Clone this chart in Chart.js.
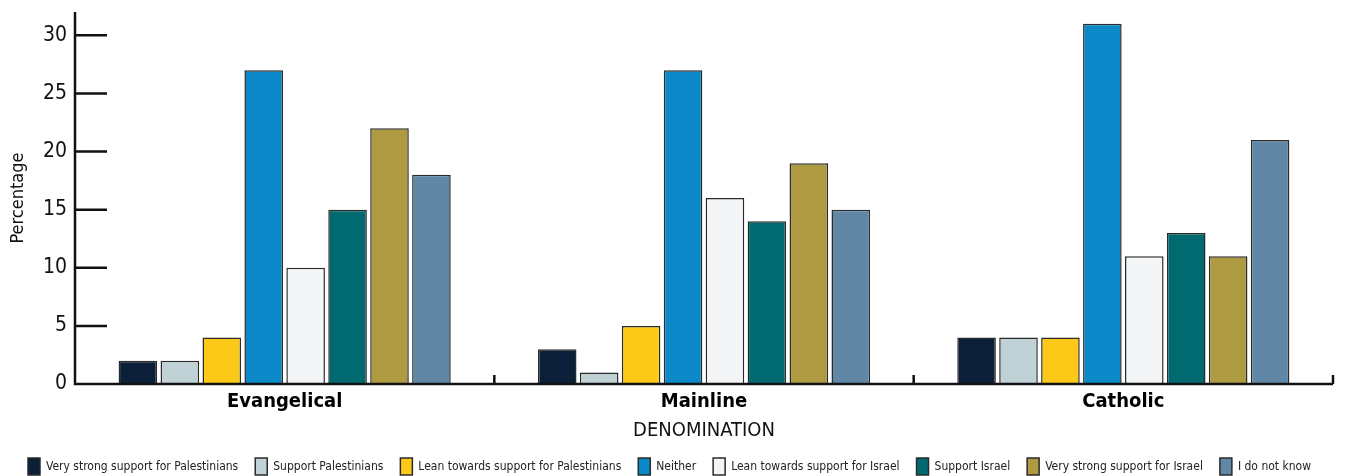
<!DOCTYPE html>
<html>
<head>
<meta charset="utf-8">
<script src="https://cdn.jsdelivr.net/npm/chart.js@4.4.1/dist/chart.umd.min.js"></script>
<style>
  html,body{ margin:0; padding:0; background:#fff; }
  #wrap{ width:1354px; height:476px; }
</style>
</head>
<body>
<div id="wrap"><canvas id="c" width="1354" height="476"></canvas></div>
<script>
// data
const denominations = ['Evangelical', 'Mainline', 'Catholic'];
const responses = [
  'Very strong support for Palestinians',
  'Support Palestinians',
  'Lean towards support for Palestinians',
  'Neither',
  'Lean towards support for Israel',
  'Support Israel',
  'Very strong support for Israel',
  'I do not know'
];
const veryStrongPal = [2, 3, 4];
const supportPal    = [2, 1, 4];
const leanPal       = [4, 5, 4];
const neither       = [27, 27, 31];
const leanIsr       = [10, 16, 11];
const supportIsr    = [15, 14, 13];
const veryStrongIsr = [22, 19, 11];
const dontKnow      = [18, 15, 21];
const yTicks = [0, 5, 10, 15, 20, 25, 30];

const colors = ['#0b1f38','#c0d2d6','#fdc918','#0a88c7','#f4f5f7','#006a70','#ae9a40','#6088a6'];
const series = [veryStrongPal, supportPal, leanPal, neither, leanIsr, supportIsr, veryStrongIsr, dontKnow];

const FONT = "'DejaVu Sans Condensed','DejaVu Sans',sans-serif";

// axis lines + inward tick marks like the original
const axisPlugin = {
  id: 'axisMarks',
  afterDatasetsDraw(chart){
    const {ctx, chartArea:a, scales:{x, y}} = chart;
    ctx.save();
    ctx.strokeStyle = '#111';
    ctx.lineWidth = 2.5;
    ctx.beginPath();
    ctx.moveTo(a.left, a.top); ctx.lineTo(a.left, a.bottom);
    ctx.lineTo(a.right, a.bottom);
    yTicks.forEach(v=>{
      const py = y.getPixelForValue(v);
      ctx.moveTo(a.left, py); ctx.lineTo(a.left + 32, py);
    });
    for(let i=0;i<denominations.length;i++){
      const px = x.getPixelForValue(i) + (x.getPixelForValue(1)-x.getPixelForValue(0))/2;
      ctx.moveTo(px, a.bottom); ctx.lineTo(px, a.bottom - 9);
    }
    ctx.stroke();
    ctx.restore();
  }
};

new Chart(document.getElementById('c'), {
  type: 'bar',
  data: {
    labels: denominations,
    datasets: responses.map((r,i)=>({
      label: r,
      data: series[i],
      backgroundColor: colors[i],
      borderColor: '#2b2b2b',
      borderWidth: 1.5,
      categoryPercentage: 0.8,
      barPercentage: 0.92
    }))
  },
  options: {
    responsive: false,
    animation: false,
    layout: { padding: { left: 6, right: 21, top: 12, bottom: -9 } },
    plugins: {
      tooltip: { enabled: false },
      legend: {
        position: 'bottom',
        labels: {
          boxWidth: 12, boxHeight: 17, padding: 17,
          color: '#222',
          font: { family: FONT, size: 12 },
          useBorderRadius: false
        }
      }
    },
    scales: {
      x: {
        afterFit: s => { s.height = 57; s.paddingLeft = 0; s.paddingRight = 0; },
        grid: { display: false, drawTicks: false },
        border: { display: false },
        ticks: { color: '#000', padding: 6, font: { family: FONT, size: 20, weight: 'bold' } },
        title: { display: true, text: 'DENOMINATION', color: '#111', padding: 0,
                 font: { family: FONT, size: 20, lineHeight: 1 } }
      },
      y: {
        min: 0, max: 32,
        afterBuildTicks: s => { s.ticks = yTicks.map(v=>({value:v})); },
        afterFit: s => { s.width = 69; s.paddingTop = 0; s.paddingBottom = 0; },
        grid: { display: false, drawTicks: false },
        border: { display: false },
        ticks: { color: '#111', padding: 8, font: { family: FONT, size: 21 } },
        title: { display: true, text: 'Percentage', color: '#111', padding: 2,
                 font: { family: FONT, size: 18 } }
      }
    }
  },
  plugins: [axisPlugin]
});
</script>
</body>
</html>
